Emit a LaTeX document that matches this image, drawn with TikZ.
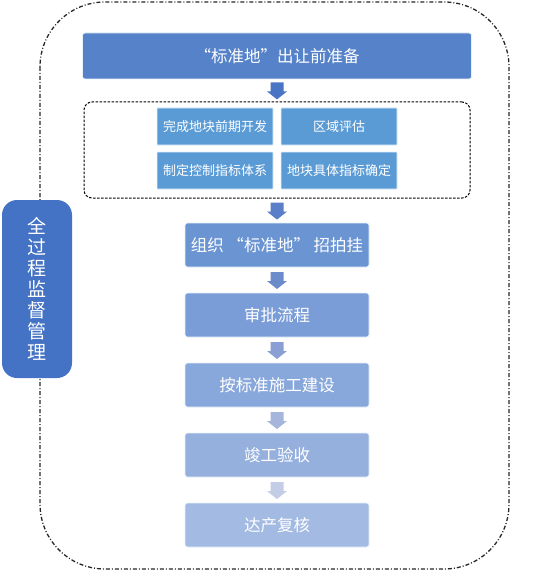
\documentclass[tikz,border=0pt]{standalone}
\usepackage{fontspec}
\setmainfont{Noto Sans CJK SC}
\usetikzlibrary{calc}

\definecolor{topblue}{HTML}{5682C9}
\definecolor{cellblue}{HTML}{5B9BD5}
\definecolor{pillblue}{HTML}{4472C4}
\definecolor{stepa}{HTML}{6B94D3}
\definecolor{stepb}{HTML}{7A9DD7}
\definecolor{stepc}{HTML}{88A7DB}
\definecolor{stepd}{HTML}{96B0DE}
\definecolor{stepe}{HTML}{A3BAE2}
\definecolor{arra}{HTML}{4A74C4}
\definecolor{arrb}{HTML}{5A7EC7}
\definecolor{arrc}{HTML}{6C8BCB}
\definecolor{arrd}{HTML}{8A9FD3}
\definecolor{arre}{HTML}{A6B5DB}
\definecolor{arrf}{HTML}{C3CDE6}

% block arrow in the gap between two nodes
\newcommand{\blockarr}[3]{%
  \coordinate (m) at ($(#1.south)!0.5!(#2.north)$);
  \fill[#3] ($(m)+(-6.5,-8)$) -- ++(13,0) -- ++(0,9) -- ++(3.5,0)
    -- ++(-10,8) -- ++(-10,-8) -- ++(3.5,0) -- cycle;
}

\begin{document}
\begin{tikzpicture}[x=1pt,y=-1pt,
    box/.style={rectangle,rounded corners=2.5pt,draw=white!85!cellblue,line width=0.7pt,
      text=white,inner sep=0pt},
    stepbox/.style={box,minimum width=184pt,minimum height=44pt,font=\fontsize{16.5}{18}\selectfont},
    cell/.style={box,rounded corners=0.5pt,fill=cellblue,minimum width=116pt,minimum height=37pt,
      font=\fontsize{13}{14}\selectfont}]
  \useasboundingbox (0,0) rectangle (554,575);

  % outer frame
  \draw[black!85,line width=1.3pt,dash pattern=on 4pt off 2pt on 1pt off 2pt,rounded corners=65pt]
    (40,2) rectangle (509,569);

  \node[box,fill=topblue,minimum width=389pt,minimum height=46pt,
    font=\fontsize{16.5}{18}\selectfont] (top) at (277,56) {“标准地”出让前准备};

  \node[draw=black,dash pattern=on 2.5pt off 1.5pt,line width=1pt,rounded corners=8pt,
    minimum width=386pt,minimum height=96pt] (prep) at (277,150) {};
  \node[cell] (c1) at (215,126.5) {完成地块前期开发};
  \node[cell] (c2) at (339,126.5) {区域评估};
  \node[cell] (c3) at (215,170.5) {制定控制指标体系};
  \node[cell] (c4) at (339,170.5) {地块具体指标确定};

  \node[stepbox,fill=stepa] (s1) at (277,245) {组织 “标准地” 招拍挂};
  \node[stepbox,fill=stepb] (s2) at (277,315) {审批流程};
  \node[stepbox,fill=stepc] (s3) at (277,385) {按标准施工建设};
  \node[stepbox,fill=stepd] (s4) at (277,455) {竣工验收};
  \node[stepbox,fill=stepe] (s5) at (277,525) {达产复核};

  \blockarr{top}{prep}{arra}
  \blockarr{prep}{s1}{arrb}
  \blockarr{s1}{s2}{arrc}
  \blockarr{s2}{s3}{arrd}
  \blockarr{s3}{s4}{arre}
  \blockarr{s4}{s5}{arrf}

  % side label
  \node[fill=pillblue,rounded corners=15pt,minimum width=70pt,minimum height=178pt,
    text=white,align=center,font=\fontsize{19}{21}\selectfont] (watch) at (37,289)
    {全\\过\\程\\监\\督\\管\\理};
\end{tikzpicture}
\end{document}
